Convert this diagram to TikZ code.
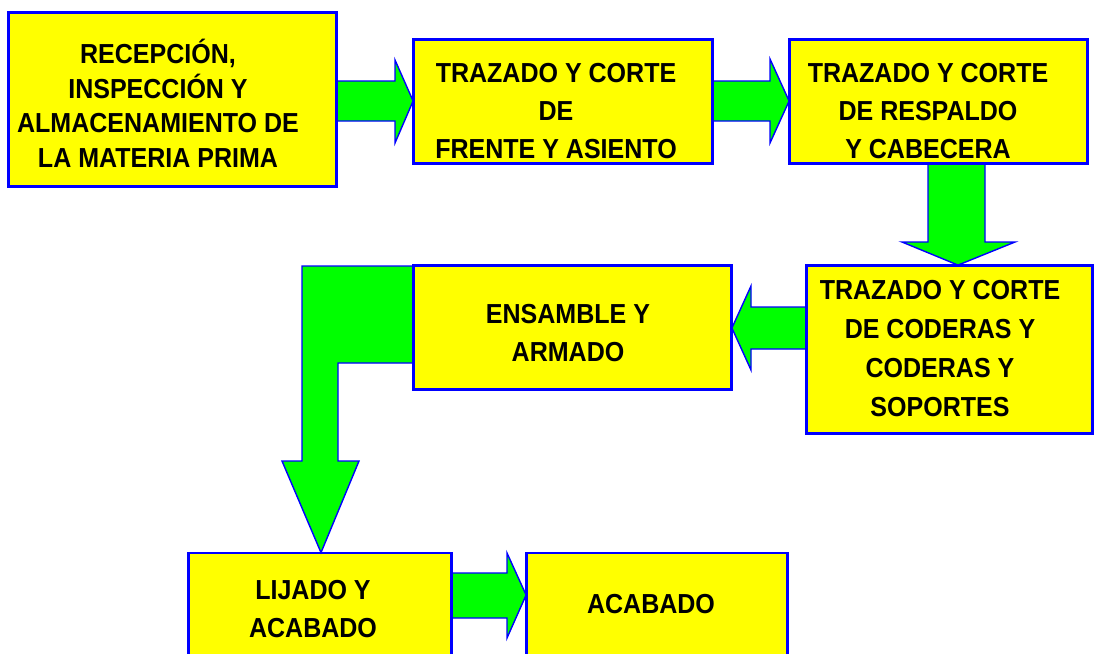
\documentclass[tikz,border=0pt]{standalone}
\usepackage{fontspec}
\setmainfont{Liberation Sans}[FakeStretch=0.91]
\definecolor{boxyellow}{RGB}{255,255,0}
\definecolor{arrowgreen}{RGB}{0,255,0}
\definecolor{edgeblue}{RGB}{0,0,255}
\tikzset{
  procbox/.style={draw=edgeblue, line width=1.8pt, fill=boxyellow, inner sep=0pt},
  proctext/.style={font=\bfseries\fontsize{27.5}{38}\selectfont, align=center, anchor=base, inner sep=0pt, text=black},
  blockarrow/.style={draw=edgeblue, line width=1.4pt, fill=arrowgreen, line join=miter}
}
\begin{document}
\begin{tikzpicture}[x=1pt,y=-1pt]
\useasboundingbox (0,0) rectangle (1094,653);
% boxes
\node[procbox, minimum width=327pt, minimum height=173pt] (b1) at (172.5,99.5) {};
\node[procbox, minimum width=298pt, minimum height=123pt] (b2) at (563,101.5) {};
\node[procbox, minimum width=297pt, minimum height=123pt] (b3) at (938.5,101.5) {};
\node[procbox, minimum width=285pt, minimum height=167pt] (b4) at (949.5,349.5) {};
\node[procbox, minimum width=317pt, minimum height=123pt] (b5) at (572.5,327.5) {};
\node[procbox, minimum width=262pt, minimum height=130pt] (b6) at (320,618.5) {};
\node[procbox, minimum width=260pt, minimum height=130pt] (b7) at (657,618.5) {};
% arrows
\draw[blockarrow] (b1.east |- 0,81) -- (395,81) -- (395,60) -- (b2.west |- 0,101)
  -- (395,143) -- (395,121) -- (b1.east |- 0,121);
\draw[blockarrow] (b2.east |- 0,81) -- (770,81) -- (770,59) -- (b3.west |- 0,101)
  -- (770,143) -- (770,121) -- (b2.east |- 0,121);
\draw[blockarrow] (928,0 |- b3.south) -- (928,242) -- (902,242) -- (958,0 |- b4.north)
  -- (1015,242) -- (985,242) -- (985,0 |- b3.south);
\draw[blockarrow] (b4.west |- 0,307) -- (751,307) -- (751,286) -- (b5.east |- 0,328)
  -- (751,370) -- (751,349) -- (b4.west |- 0,349);
\draw[blockarrow] (b5.west |- 0,266) -- (302,266) -- (302,461) -- (282,461) -- (321,0 |- b6.north)
  -- (359,461) -- (338,461) -- (338,363) -- (b5.west |- 0,363);
\draw[blockarrow] (b6.east |- 0,573) -- (507,573) -- (507,553) -- (b7.west |- 0,595)
  -- (507,638) -- (507,618) -- (b6.east |- 0,618);
% redraw box outlines on top of arrow bases
\foreach \b in {b1,b2,b3,b4,b5,b6,b7}{
  \draw[draw=edgeblue, line width=1.8pt] (\b.north west) rectangle (\b.south east);
}
% texts (anchor base = baseline of the last line)
\node[proctext, font=\bfseries\fontsize{27.5}{34.5}\selectfont] (t1) at (158,167) {RECEPCIÓN,\\INSPECCIÓN Y\\ALMACENAMIENTO DE\\LA MATERIA PRIMA};
\node[proctext] (t2) at (556,158) {TRAZADO Y CORTE\\DE\\FRENTE Y ASIENTO};
\node[proctext] (t3) at (928,158) {TRAZADO Y CORTE\\DE RESPALDO\\Y CABECERA};
\node[proctext, font=\bfseries\fontsize{27.5}{39}\selectfont] (t4) at (940,416) {TRAZADO Y CORTE\\DE CODERAS Y\\CODERAS Y\\SOPORTES};
\node[proctext] (t5) at (568,361) {ENSAMBLE Y\\ARMADO};
\node[proctext] (t6) at (313,637) {LIJADO Y\\ACABADO};
\node[proctext] (t7) at (651,613) {ACABADO};
\end{tikzpicture}
\end{document}
